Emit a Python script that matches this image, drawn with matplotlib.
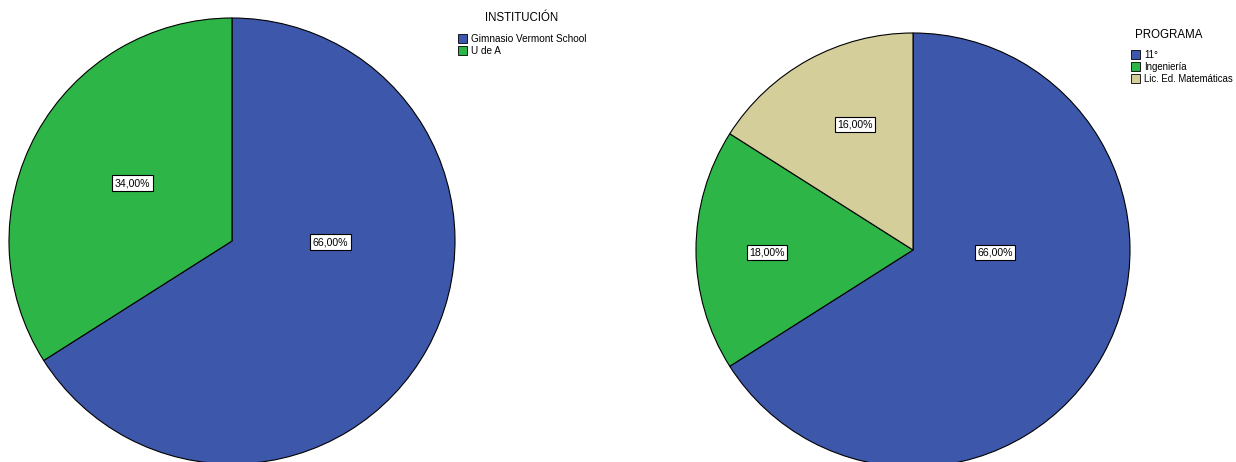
import matplotlib
matplotlib.use("Agg")
import matplotlib.pyplot as plt
from matplotlib.patches import Rectangle

plt.rcParams['font.family'] = ['Liberation Sans', 'DejaVu Sans']

# Data
inst_title = "INSTITUCIÓN"
inst_labels = ["Gimnasio Vermont School", "U de A"]
inst_values = [66.0, 34.0]

prog_title = "PROGRAMA"
prog_labels = ["11°", "Ingeniería", "Lic. Ed. Matemáticas"]
prog_values = [66.0, 18.0, 16.0]

colors = ["#3D58AB", "#2EB548", "#D4CE9B"]

W, H = 1236, 462
fig = plt.figure(figsize=(W / 100, H / 100), dpi=100)


def px_axes(cx, cy, r):
    """Axes whose unit circle sits at pixel centre (cx, cy) with radius r."""
    ax = fig.add_axes([(cx - r) / W, (H - (cy + r)) / H, 2 * r / W, 2 * r / H])
    ax.set_xlim(-1, 1)
    ax.set_ylim(-1, 1)
    ax.set_aspect('equal')
    ax.axis('off')
    return ax


def draw_pie(ax, values, label_xy):
    ax.pie(values, colors=colors[:len(values)], startangle=90, counterclock=False,
           radius=1, wedgeprops=dict(edgecolor='black', linewidth=0.8),
           frame=False)
    ax.set_xlim(-1, 1)
    ax.set_ylim(-1, 1)
    for v, (x, y) in zip(values, label_xy):
        ax.text(x, y, f"{v:.2f}%".replace('.', ','), ha='center', va='center',
                fontsize=7.6, color='black',
                bbox=dict(boxstyle='square,pad=0.25', fc='white', ec='black', lw=0.8))


def draw_legend(title, labels, title_x, title_y, box_x, row0_y, step, size):
    fig.text(title_x / W, 1 - title_y / H, title, ha='center', va='center', fontsize=8.3)
    for i, lab in enumerate(labels):
        y = row0_y + i * step
        fig.patches.append(Rectangle((box_x / W, 1 - (y + 4.5) / H), 9 / W, 9 / H,
                                     transform=fig.transFigure, fc=colors[i],
                                     ec='black', lw=0.6))
        fig.text((box_x + 13) / W, 1 - y / H, lab, ha='left', va='center', fontsize=size)


ax1 = px_axes(232, 241, 223)
draw_pie(ax1, inst_values, [(0.44, -0.005), (-0.445, 0.26)])
draw_legend(inst_title, inst_labels, 522, 18, 458, 38.5, 12, 7.2)

ax2 = px_axes(913, 250, 217)
draw_pie(ax2, prog_values, [(0.378, -0.01), (-0.673, -0.01), (-0.267, 0.58)])
draw_legend(prog_title, prog_labels, 1169, 35, 1131, 54.5, 12, 6.9)

fig.savefig("out.png", dpi=100, facecolor='white')
